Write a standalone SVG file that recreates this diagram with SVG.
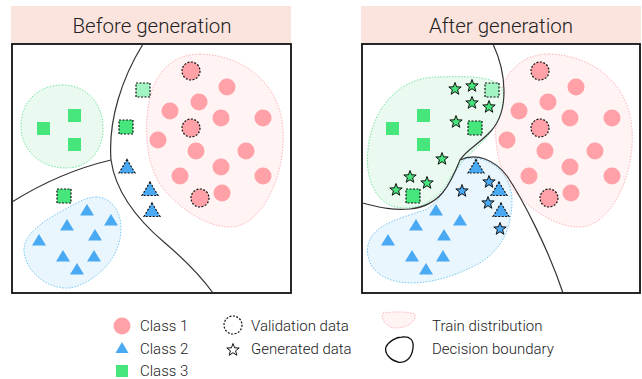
<svg xmlns="http://www.w3.org/2000/svg" xmlns:xlink="http://www.w3.org/1999/xlink" width="642" height="379" viewBox="0 0 642 379">
<style>
.title{font-family:Roboto,"Liberation Sans",sans-serif;font-weight:300;font-size:20.5px;fill:#222;text-anchor:middle}
.leg{font-family:Roboto,"Liberation Sans",sans-serif;font-weight:300;font-size:15px;fill:#222}
.hdr{fill:#fce4de}
.panel{fill:none;stroke:#111;stroke-width:1.8}
.bnd{fill:none;stroke:#333;stroke-width:1.2}
.bR{fill:#fff3f4;stroke:#ffb4b8;stroke-width:1;stroke-dasharray:1.5 1.5}
.bG{fill:#eafaf0;stroke:#74e6a0;stroke-width:1;stroke-dasharray:1.5 1.5}
.bB{fill:#eaf6fd;stroke:#74c8f2;stroke-width:1;stroke-dasharray:1.5 1.5}
.val{stroke:#111;stroke-width:1.2;stroke-dasharray:2 1.5}
</style>
<defs>
<circle id="c1" r="8.5" fill="#ffa1a6"/>
<circle id="c1v" r="9" fill="#ffa1a6" class="val"/>
<polygon id="t2" points="0,-6 7,5.5 -7,5.5" fill="#4aa9f3"/>
<polygon id="t2v" points="0,-7 8,6.5 -8,6.5" fill="#4aa9f3" class="val"/>
<rect id="s3" x="-6.5" y="-6.5" width="13" height="13" fill="#46e67d"/>
<rect id="s3v" x="-7" y="-7" width="14" height="14" fill="#46e67d" class="val"/>
<rect id="s3vl" x="-7" y="-7" width="14" height="14" fill="#a2f5c2" class="val"/>
<polygon id="star" points="0,-6.5 1.59,-2.18 6.18,-2.01 2.57,0.83 3.82,5.26 0,2.7 -3.82,5.26 -2.57,0.83 -6.18,-2.01 -1.59,-2.18" stroke="#111" stroke-width="1" stroke-linejoin="round"/>
<path id="redblob" d="M200,54 C240,55 280,80 283,130 C286,175 262,227 230,227 C205,227 178,207 162,187 C146,165 144,130 149,102 C155,70 175,54 200,54 Z"/>
</defs>

<g id="left-panel">
<rect class="hdr" x="11" y="6" width="280" height="38"/>
<text class="title" x="152" y="33">Before generation</text>
<rect class="panel" x="12" y="44" width="279" height="249"/>
<g id="L-distributions">
<use xlink:href="#redblob" class="bR"/>
<path class="bG" d="M62,85 C88,85 103,105 103,128 C103,152 88,168 66,168 C40,168 21,150 21,126 C21,102 38,85 62,85 Z"/>
<path class="bB" d="M96,197 C110,197 121,210 121,228 C121,255 102,276 78,286 C52,295 25,272 24,251 C23,236 40,223 60,212 C75,204 86,197 96,197 Z"/>
</g>
<g id="L-class1">
<use xlink:href="#c1" x="227" y="87"/><use xlink:href="#c1" x="199" y="102"/><use xlink:href="#c1" x="170" y="111"/>
<use xlink:href="#c1" x="221" y="118"/><use xlink:href="#c1" x="263" y="118"/><use xlink:href="#c1" x="158" y="140"/>
<use xlink:href="#c1" x="196" y="151"/><use xlink:href="#c1" x="246" y="151"/><use xlink:href="#c1" x="221" y="167"/>
<use xlink:href="#c1" x="180" y="176"/><use xlink:href="#c1" x="263" y="176"/><use xlink:href="#c1" x="222" y="193"/>
<use xlink:href="#c1v" x="191" y="71"/><use xlink:href="#c1v" x="191" y="128"/><use xlink:href="#c1v" x="200" y="198"/>
</g>
<g id="L-class2">
<use xlink:href="#t2" x="87" y="210"/><use xlink:href="#t2" x="67" y="225"/><use xlink:href="#t2" x="111" y="220"/>
<use xlink:href="#t2" x="39" y="240"/><use xlink:href="#t2" x="95" y="235"/><use xlink:href="#t2" x="63" y="256"/>
<use xlink:href="#t2" x="94" y="256"/><use xlink:href="#t2" x="77" y="269"/>
<use xlink:href="#t2v" x="127" y="166.5"/><use xlink:href="#t2v" x="150" y="189"/><use xlink:href="#t2v" x="152" y="210"/>
</g>
<g id="L-class3">
<use xlink:href="#s3" x="74.5" y="115.5"/><use xlink:href="#s3" x="43.5" y="128.5"/><use xlink:href="#s3" x="74.5" y="144.5"/>
<use xlink:href="#s3vl" x="143" y="90"/><use xlink:href="#s3v" x="126" y="127"/><use xlink:href="#s3v" x="64" y="196"/>
</g>
</g>

<g id="right-panel">
<rect class="hdr" x="361" y="6" width="280" height="38"/>
<text class="title" x="501" y="33">After generation</text>
<rect class="panel" x="362" y="44" width="278" height="249"/>
<g id="R-distributions">
<use xlink:href="#redblob" class="bR" x="349"/>
<path class="bG" d="M440,77 C470,76 500,76 503,92 C506,112 494,131 478,146 C466,157 456,168 449,180 C438,198 425,208 405,208 C385,208 372,195 368,170 C365,140 375,110 395,93 C410,80 425,77 440,77 Z"/>
<path class="bB" d="M465,159 C490,154 512,175 512,200 C512,230 500,255 470,268 C445,280 420,285 400,282 C375,278 365,262 368,245 C372,225 400,218 425,210 C445,200 452,172 465,159 Z"/>
</g>
<g id="R-class1" transform="translate(349,0)">
<use xlink:href="#c1" x="227" y="87"/><use xlink:href="#c1" x="199" y="102"/><use xlink:href="#c1" x="170" y="111"/>
<use xlink:href="#c1" x="221" y="118"/><use xlink:href="#c1" x="263" y="118"/><use xlink:href="#c1" x="158" y="140"/>
<use xlink:href="#c1" x="196" y="151"/><use xlink:href="#c1" x="246" y="151"/><use xlink:href="#c1" x="221" y="167"/>
<use xlink:href="#c1" x="180" y="176"/><use xlink:href="#c1" x="263" y="176"/><use xlink:href="#c1" x="222" y="193"/>
<use xlink:href="#c1v" x="191" y="71"/><use xlink:href="#c1v" x="191" y="128"/><use xlink:href="#c1v" x="200" y="198"/>
</g>
<g id="R-class2">
<g transform="translate(349,0)">
<use xlink:href="#t2" x="87" y="210"/><use xlink:href="#t2" x="67" y="225"/><use xlink:href="#t2" x="111" y="220"/>
<use xlink:href="#t2" x="39" y="240"/><use xlink:href="#t2" x="95" y="235"/><use xlink:href="#t2" x="63" y="256"/>
<use xlink:href="#t2" x="94" y="256"/><use xlink:href="#t2" x="77" y="269"/>
<use xlink:href="#t2v" x="127" y="166.5"/><use xlink:href="#t2v" x="150" y="189"/><use xlink:href="#t2v" x="152" y="210"/>
</g>
<g fill="#4aa9f3">
<use xlink:href="#star" x="489" y="182"/><use xlink:href="#star" x="462" y="191"/><use xlink:href="#star" x="488" y="203"/><use xlink:href="#star" x="500" y="229"/>
</g>
</g>
<g id="R-class3">
<use xlink:href="#s3" x="423.5" y="115.5"/><use xlink:href="#s3" x="392.5" y="128.5"/><use xlink:href="#s3" x="423.5" y="144.5"/>
<use xlink:href="#s3vl" x="492" y="90"/><use xlink:href="#s3v" x="475" y="128"/><use xlink:href="#s3v" x="413" y="196"/>
<g fill="#46e67d">
<use xlink:href="#star" x="455" y="89"/><use xlink:href="#star" x="472" y="86"/><use xlink:href="#star" x="472" y="103"/>
<use xlink:href="#star" x="489" y="107"/><use xlink:href="#star" x="456" y="122"/><use xlink:href="#star" x="442" y="159"/>
<use xlink:href="#star" x="410" y="177"/><use xlink:href="#star" x="427" y="183"/><use xlink:href="#star" x="396" y="190"/>
</g>
</g>
</g>

<g id="connectors">
<path class="bnd" d="M143,44 C122,78 108,120 111,160 C116,195 140,222 165,243 C185,260 200,275 213,293"/>
<path class="bnd" d="M111,160 Q60,172 12,202"/>
<path class="bnd" d="M493,44 C506,72 510,110 491,131 C478,145 466,150 460,160"/>
<path class="bnd" d="M460,160 C450,185 440,206 410,209 C390,211 375,206 362,203"/>
<path class="bnd" d="M460,160 C476,152 495,160 507,176 C522,198 548,248 563,293"/>
</g>

<g id="legend">
<use xlink:href="#c1" x="122" y="326"/>
<text class="leg" x="140" y="331">Class 1</text>
<polygon points="122,342 128.5,353 115.5,353" fill="#4aa9f3"/>
<text class="leg" x="140" y="354">Class 2</text>
<rect x="116" y="365" width="12" height="12" fill="#46e67d"/>
<text class="leg" x="140" y="376">Class 3</text>
<circle cx="233" cy="325" r="9" fill="none" class="val"/>
<text class="leg" x="251" y="331">Validation data</text>
<use xlink:href="#star" x="233" y="350" fill="#fff"/>
<text class="leg" x="251" y="354">Generated data</text>
<path class="bR" d="M383,313 C395,311 410,312 415,314 C417,320 408,328 396,328 C386,328 380,318 383,313 Z"/>
<text class="leg" x="432" y="331">Train distribution</text>
<path fill="none" stroke="#111" stroke-width="1.3" d="M402,337 C410,336 414,340 413,348 C412,358 405,364 398,362 C390,360 384,353 386,347 C388,342 396,337 402,337 Z"/>
<text class="leg" x="432" y="354">Decision boundary</text>
</g>
</svg>
